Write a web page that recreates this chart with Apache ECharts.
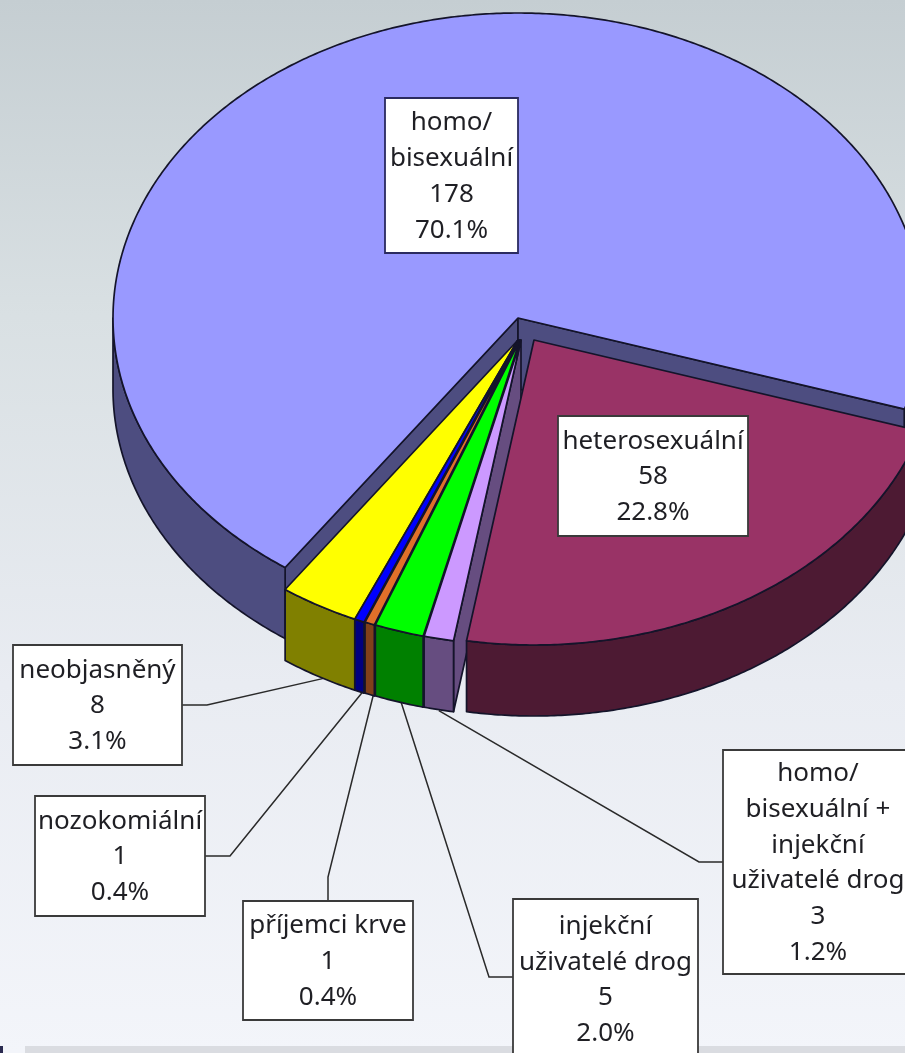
<!DOCTYPE html>
<html>
<head>
<meta charset="utf-8">
<style>html,body{margin:0;padding:0;overflow:hidden}#c{width:905px;height:1053px}</style>
<script src="https://cdn.jsdelivr.net/npm/echarts@6/dist/echarts.min.js"></script>
</head>
<body>
<div id="c"></div>
<script>
// ---- data (clockwise from the first slice) ----
const categories = ['homo/\nbisexuální', 'heterosexuální', 'homo/\nbisexuální +\ninjekční\nuživatelé drog', 'injekční\nuživatelé drog', 'příjemci krve', 'nozokomiální', 'neobjasněný'];
const values = [178, 58, 3, 5, 1, 1, 8];

// ---- styles ----
const topColors  = ['#9999FF', '#993366', '#CC99FF', '#00FF00', '#E0702A', '#0000FF', '#FFFF00'];
const wallColors = ['#4D4D80', '#4D1A33', '#664D80', '#008000', '#80401A', '#000080', '#808000'];
const drawRank   = [1, 7, 6, 5, 4, 3, 2];

// ---- pie geometry ----
const CX = 518, CY = 318, RX = 405, RY = 305, DEPTH = 71, START = 215.1;
const explodeX = [0, 16, 3, 2, 1, 0, 0];
const explodeY = [0, 22, 22, 22, 22, 22, 22];

// ---- label layout: box [x, y, w, h], leader elbow points, anchor nudge ----
const boxes = [[385,98,133,155],[558,416,190,120],[723,750,190,224],[513,899,185,160],[243,901,170,119],[35,796,170,120],[13,645,169,120]];
const leaders = [null, null, [[723,862],[699,862]], [[513,977],[489,977]], [[328,901],[328,877]], [[205,856],[230,856]], [[182,705],[207,705]]];
const nudges = [null, null, [7,5], [4,6], [3,3], [1,3], [-1,3]];

const total = values.reduce((a, b) => a + b, 0);
const FONT = '"Noto Sans", "DejaVu Sans", sans-serif';
const LINE = '#14142a';

function rim(idx, deg, down) {
  const r = deg * Math.PI / 180;
  return [CX + explodeX[idx] + RX * Math.sin(r), CY + explodeY[idx] - RY * Math.cos(r) + (down || 0)];
}
function arc(idx, a, b, down) {
  const pts = [], n = Math.max(2, Math.ceil(Math.abs(b - a) * 2));
  for (let i = 0; i <= n; i++) pts.push(rim(idx, a + (b - a) * i / n, down));
  return pts;
}

function renderItem(params, api) {
  const i = params.dataIndex;
  let before = 0;
  for (let k = 0; k < i; k++) before += values[k];
  const val = api.value(0);
  const a = START + before / total * 360, b = a + val / total * 360;
  const apex = [CX + explodeX[i], CY + explodeY[i]];
  const z = drawRank[i] * 10;
  const children = [];
  const stroke = { stroke: LINE, lineWidth: 1.7, lineJoin: 'round' };

  // radial walls, visible where the cut faces the viewer
  [a, b].forEach(function (deg, side) {
    const n = ((deg % 360) + 360) % 360;
    const facing = side === 0 ? (n > 180 && n < 360) : (n > 0 && n < 180);
    if (!facing) return;
    const p = rim(i, deg);
    children.push({ type: 'polygon', z2: z, shape: { points: [apex, p, [p[0], p[1] + DEPTH], [apex[0], apex[1] + DEPTH]] },
      style: Object.assign({ fill: wallColors[i] }, stroke) });
  });
  // outer wall: the part of the rim on the near side
  [[90, 270], [450, 630]].forEach(function (w) {
    const s = Math.max(a, w[0]), e = Math.min(b, w[1]);
    if (s >= e) return;
    const pts = arc(i, s, e).concat(arc(i, e, s, DEPTH));
    children.push({ type: 'polygon', z2: z + 1, shape: { points: pts }, style: Object.assign({ fill: wallColors[i] }, stroke) });
  });
  // top face
  children.push({ type: 'polygon', z2: z + 2, shape: { points: [apex].concat(arc(i, a, b)) },
    style: Object.assign({ fill: topColors[i] }, stroke) });

  // leader line, run slightly under the wall so it meets the rim
  if (leaders[i]) {
    const m = rim(i, (a + b) / 2, DEPTH);
    const end = [m[0] + nudges[i][0], m[1] + nudges[i][1]];
    const el = leaders[i][1];
    const len = Math.hypot(end[0] - el[0], end[1] - el[1]);
    const over = [end[0] + (end[0] - el[0]) / len * 8, end[1] + (end[1] - el[1]) / len * 8];
    children.push({ type: 'polyline', z2: 1, shape: { points: leaders[i].concat([over]) }, style: { stroke: '#2a2a2a', lineWidth: 1.5, fill: null } });
  }
  // label box
  const bx = boxes[i];
  children.push({ type: 'rect', z2: 100, shape: { x: bx[0], y: bx[1], width: bx[2], height: bx[3] },
    style: { fill: '#ffffff', stroke: i === 0 ? '#2b2b60' : '#3a3a3a', lineWidth: 1.8 } });
  children.push({ type: 'text', z2: 101, style: {
    x: bx[0] + bx[2] / 2, y: bx[1] + bx[3] / 2 + 1,
    text: categories[i] + '\n' + val + '\n' + (val / total * 100).toFixed(1) + '%',
    align: 'center', verticalAlign: 'middle',
    fontFamily: FONT, fontSize: 26, lineHeight: 35.8, fill: '#1f1f24' } });
  return { type: 'group', children: children };
}

const chart = echarts.init(document.getElementById('c'), null, { renderer: 'canvas' });
chart.setOption({
  animation: false,
  backgroundColor: { type: 'linear', x: 0, y: 0, x2: 0, y2: 1, colorStops: [
    { offset: 0, color: '#C5CED2' }, { offset: 0.3, color: '#D9E0E3' }, { offset: 0.65, color: '#E9ECF2' }, { offset: 1, color: '#F3F5FA' } ] },
  graphic: [
    { type: 'rect', z: -1, silent: true, shape: { x: 25, y: 1046, width: 880, height: 7 }, style: { fill: '#DADCE1' } },
    { type: 'rect', z: -1, silent: true, shape: { x: 0, y: 1046, width: 3, height: 7 }, style: { fill: '#2a2a50' } }
  ],
  series: [{
    type: 'custom',
    coordinateSystem: 'none',
    silent: true,
    clip: false,
    renderItem: renderItem,
    data: values.map((v, i) => ({ name: categories[i], value: [v] }))
  }]
});
</script>
</body>
</html>
